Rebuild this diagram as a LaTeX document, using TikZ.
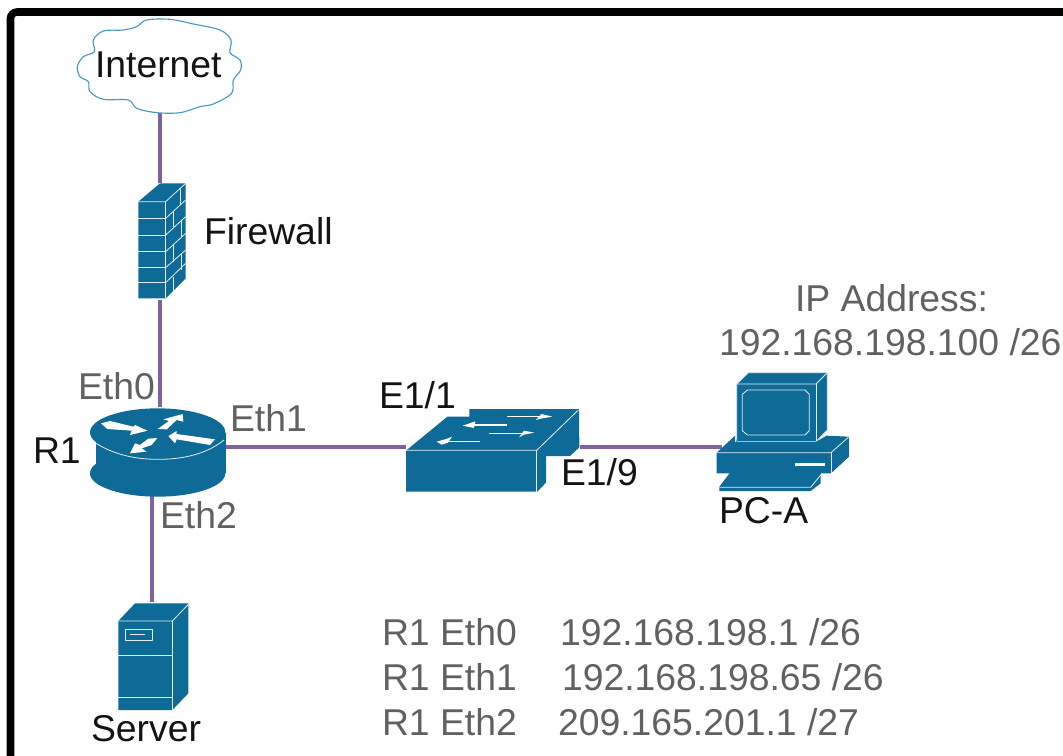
\documentclass[tikz,border=0pt]{standalone}
\usepackage{fontspec}
\setmainfont{Liberation Sans}
\definecolor{ciscoblue}{RGB}{14,107,152}
\definecolor{cloudline}{RGB}{70,155,195}
\definecolor{linkpurple}{RGB}{127,99,161}
\tikzset{
  x=.75pt,y=-.75pt,
  iconbox/.style 2 args={inner sep=0pt,outer sep=0pt,minimum width=#1*.75pt,minimum height=#2*.75pt},
  link/.style={draw=linkpurple,line width=3pt},
  zoomed/.style 2 args={shift={(#1,#2)},x=.25pt,y=-.25pt},
  body/.style={fill=ciscoblue},
  hair/.style={draw=white!88!ciscoblue,line width=.6pt,line join=round},
  lbl/.style={inner sep=0pt,outer sep=0pt,anchor=base west,font=\fontsize{28}{30}\selectfont,text=black!92},
  thinlbl/.style={lbl,text=black!62},
}
\begin{document}
\begin{tikzpicture}
\useasboundingbox (0,0) rectangle (1063,756);
\fill[white] (0,0) rectangle (1063,756);
\clip (0,0) rectangle (1063,756);
\draw[black,line width=5.7pt,rounded corners=5pt] (10.5,800) -- (10.5,12) -- (1100,12);

% invisible anchors of the icons
\node[iconbox={162}{93}] (cloud) at (160,66.5) {};
\node[iconbox={52}{115}] (fw) at (160,240.5) {};
\node[iconbox={132}{80}] (router) at (160,447) {};
\node[iconbox={74}{108}] (server) at (152,656) {};
\node[iconbox={174}{83}] (switch) at (493,447) {};
\node[iconbox={128}{88}] (pc) at (786,447) {};

% connectors
\draw[link] (cloud.south) -- (fw.north);
\path (fw.south) ++(0,2) coordinate (fwlow);
\draw[link] (fwlow) -- (router.north);
\draw[link] (router.east) -- (switch.west);
\draw[link] (switch.east) -- (pc.west);
\draw[link] (router.south -| server.north) -- (server.north);

% cloud
\begin{scope}[zoomed={0}{0}]
\draw[cloudline,line width=.85pt,fill=white,line join=round]
 plot[smooth cycle,tension=.55] coordinates {
 (232,200)(250,170)(283,155)(280,120)(310,93)(370,90)(410,80)(440,60)(510,58)(580,72)(660,90)(693,120)(690,158)(720,180)(722,210)(700,240)(695,280)(640,312)(600,320)(540,338)(470,338)(410,325)(385,300)(310,298)(270,275)(265,245)(240,230)};
\end{scope}

% firewall
\begin{scope}[zoomed={0}{0}]
\fill[body] (415,605) -- (480,550) -- (557,550) -- (557,835) -- (497,895) -- (415,895) -- cycle;
\draw[hair] (415,605) -- (497,605) -- (557,550);
\draw[hair] (497,605) -- (497,895);
\foreach \y in {655,705,755,803,848} \draw[hair] (415,\y) -- (497,\y);
\draw[hair] (497,655) -- (557,600);
\draw[hair] (497,705) -- (557,650);
\draw[hair] (497,755) -- (557,700);
\draw[hair] (497,803) -- (557,750);
\draw[hair] (497,848) -- (557,790);
\draw[hair] (542,565) -- (542,612);
\draw[hair] (520,635) -- (520,682);
\draw[hair] (545,662) -- (545,712);
\draw[hair] (520,735) -- (520,785);
\draw[hair] (545,762) -- (545,810);
\draw[hair] (520,830) -- (520,872);
\end{scope}

% router
\begin{scope}[zoomed={20}{360}]
\fill[body] (413,340) ellipse[x radius=203,y radius=70];
\fill[body] (227,220) rectangle (617,340);
\fill[body] (413,217) ellipse[x radius=203,y radius=72];
\draw[hair] (228,250) .. controls (280,282) and (340,298) .. (415,298) .. controls (490,298) and (560,282) .. (612,240);
\fill[white] (243,190) -- (270,183) -- (340,200) -- (345,195) -- (382,212) -- (330,225) -- (335,212) -- (262,207) -- cycle;
\fill[white] (413,207) -- (447,183) -- (430,178) -- (488,162) -- (490,185) -- (470,180) -- (440,208) -- cycle;
\fill[white] (412,234) -- (385,236) -- (360,255) -- (345,250) -- (330,280) -- (380,275) -- (365,265) -- (395,255) -- cycle;
\fill[white] (445,228) -- (470,213) -- (470,222) -- (585,238) -- (570,255) -- (470,238) -- (465,250) -- cycle;
\end{scope}

% server
\begin{scope}[zoomed={20}{360}]
\fill[body] (295,783) -- (345,730) -- (505,730) -- (505,1000) -- (457,1050) -- (295,1050) -- cycle;
\draw[hair] (295,783) -- (457,783) -- (505,733);
\draw[hair] (457,783) -- (457,1050);
\draw[hair] (295,885) -- (457,885);
\draw[hair] (295,1013) -- (457,1013);
\draw[hair] (315,808) rectangle (398,842);
\draw[hair] (330,822) -- (375,822);
\end{scope}

% switch
\begin{scope}[zoomed={370}{360}]
\fill[body] (108,272) -- (232,170) -- (298,170) -- (298,147) -- (627,147) -- (628,262) -- (600,288) -- (528,288) -- (528,368) -- (502,395) -- (108,395) -- cycle;
\draw[hair] (108,271) -- (500,271) -- (625,150);
\draw[hair] (500,271) -- (500,395);
\draw[white,line width=.75pt] (412,170) -- (510,170);
\fill[white] (498,180) -- (514,162) -- (547,170) -- (512,176) -- cycle;
\draw[white,line width=.9pt] (310,195) -- (410,195);
\fill[white] (278,197) -- (316,184) -- (312,204) -- cycle;
\draw[white,line width=.75pt] (358,220) -- (455,220);
\fill[white] (447,232) -- (462,212) -- (493,218) -- (462,224) -- cycle;
\draw[white,line width=.75pt] (235,243) -- (330,243);
\fill[white] (200,245) -- (232,236) -- (246,230) -- (234,248) -- (215,254) -- cycle;
\end{scope}

% PC
\begin{scope}[zoomed={690}{270}]
\fill[body] (140,342) -- (175,308) -- (412,308) -- (412,480) -- (378,515) -- (140,515) -- cycle;
\draw[hair] (140,342) -- (175,308) -- (412,308) -- (412,480) -- (378,515);
\draw[hair] (140,515) -- (140,342) -- (378,342) -- (412,308);
\draw[hair] (378,342) -- (378,515) -- (140,515);
\draw[hair] (172,360) -- (345,360) -- (358,373) -- (358,482) -- (345,495) -- (172,495) -- (157,482) -- (157,373) -- cycle;
\fill[body] (80,548) -- (135,497) -- (140,515) -- (378,515) -- (410,497) -- (477,500) -- (477,560) -- (423,610) -- (80,610) -- cycle;
\draw[hair] (80,548) -- (423,548) -- (477,500);
\draw[hair] (423,548) -- (423,610);
\draw[hair] (135,497) -- (135,515);
\fill[white] (315,580) rectangle (405,588);
\fill[body] (88,650) -- (120,608) -- (392,608) -- (392,640) -- (362,663) -- (88,663) -- cycle;
\draw[hair] (88,652) -- (362,652) -- (392,615);
\end{scope}

% labels
\node[lbl] (tinternet) at (95,78) {Internet};
\node[lbl] (tfirewall) at (204,244) {Firewall};
\node[thinlbl] (teth0) at (78,399) {Eth0};
\node[thinlbl] (teth1) at (230,431) {Eth1};
\node[thinlbl] (teth2) at (160,528) {Eth2};
\node[lbl] (tr1) at (33,463) {R1};
\node[lbl] (tserver) at (91,741) {Server};
\node[lbl] (te11) at (379,408) {E1/1};
\node[lbl] (te19) at (561,485) {E1/9};
\node[lbl] (tpca) at (719,523) {PC-A};
\node[thinlbl] (tipa) at (795,311) {IP Address:};
\node[thinlbl] (tipb) at (719,355) {192.168.198.100 /26};
\node[thinlbl] (ta1) at (382,645) {R1 Eth0};
\node[thinlbl] (ta2) at (382,690) {R1 Eth1};
\node[thinlbl] (ta3) at (382,735) {R1 Eth2};
\node[thinlbl] (tb1) at (560,645) {192.168.198.1 /26};
\node[thinlbl] (tb2) at (562,690) {192.168.198.65 /26};
\node[thinlbl] (tb3) at (558,735) {209.165.201.1 /27};
\end{tikzpicture}
\end{document}
